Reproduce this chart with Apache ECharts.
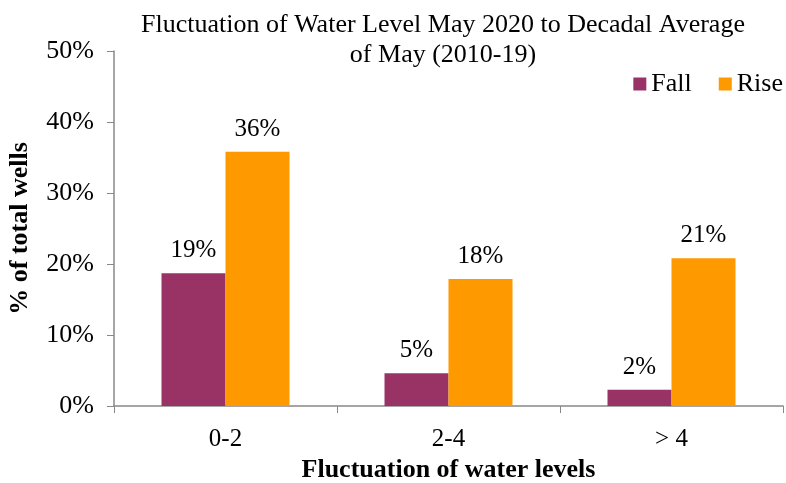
<!DOCTYPE html>
<html>
<head>
<meta charset="utf-8">
<script src="https://cdn.jsdelivr.net/npm/echarts@6/dist/echarts.min.js"></script>
<style>
  html, body { margin: 0; padding: 0; background: #fff; }
  #main { width: 786px; height: 483px; }
</style>
</head>
<body>
<div id="main"></div>
<script>
// data
const categories = ['0-2', '2-4', '> 4'];
const fallValues = [18.7, 4.6, 2.3];
const riseValues = [35.8, 17.9, 20.8];
const fallLabels = ['19%', '5%', '2%'];
const riseLabels = ['36%', '18%', '21%'];

const serif = '"Liberation Serif", "DejaVu Serif", serif';

const myChart = echarts.init(document.getElementById('main'));

const labelOf = (labels) => ({
  show: true,
  position: 'top',
  distance: 10,
  fontFamily: serif,
  fontSize: 25,
  color: '#000',
  formatter: (p) => labels[p.dataIndex]
});

let option = {
  animation: false,
  title: {
    text: 'Fluctuation of Water Level May 2020 to Decadal Average\nof May (2010-19)',
    left: 438,
    textAlign: 'center',
    top: 5,
    textStyle: { fontFamily: serif, fontSize: 26, fontWeight: 'normal', color: '#000', lineHeight: 30 }
  },
  legend: {
    data: ['Fall', 'Rise'],
    orient: 'horizontal',
    right: 0,
    top: 66,
    padding: [5, 3, 5, 5],
    itemWidth: 13,
    itemHeight: 13,
    itemGap: 27,
    icon: 'rect',
    textStyle: { fontFamily: serif, fontSize: 26, color: '#000' }
  },
  grid: { left: 114, right: 3, top: 51, bottom: 77, outerBoundsMode: 'none' },
  xAxis: {
    type: 'category',
    data: categories,
    name: 'Fluctuation of water levels',
    nameLocation: 'middle',
    nameGap: 48,
    nameTextStyle: { fontFamily: serif, fontSize: 26, fontWeight: 'bold', color: '#000' },
    axisLine: { lineStyle: { color: '#888', width: 1.5 } },
    axisTick: { show: true, length: 7, lineStyle: { color: '#888' } },
    axisLabel: { fontFamily: serif, fontSize: 25, color: '#000', margin: 21 }
  },
  yAxis: {
    type: 'value',
    min: 0,
    max: 50,
    interval: 10,
    name: '% of total wells',
    nameLocation: 'middle',
    nameGap: 81,
    nameTextStyle: { fontFamily: serif, fontSize: 26, fontWeight: 'bold', color: '#000' },
    axisLine: { show: true, lineStyle: { color: '#888', width: 1.5 } },
    axisTick: { show: true, length: 7, lineStyle: { color: '#888' } },
    splitLine: { show: false },
    axisLabel: { fontFamily: serif, fontSize: 26, color: '#000', margin: 20, formatter: '{value}%' }
  },
  series: [
    {
      name: 'Fall',
      type: 'bar',
      data: fallValues,
      barWidth: 64,
      barGap: 0,
      itemStyle: { color: '#993366' },
      label: labelOf(fallLabels)
    },
    {
      name: 'Rise',
      type: 'bar',
      data: riseValues,
      barWidth: 64,
      barGap: 0,
      itemStyle: { color: '#FF9900' },
      label: labelOf(riseLabels)
    }
  ]
};

myChart.setOption(option);
</script>
</body>
</html>
